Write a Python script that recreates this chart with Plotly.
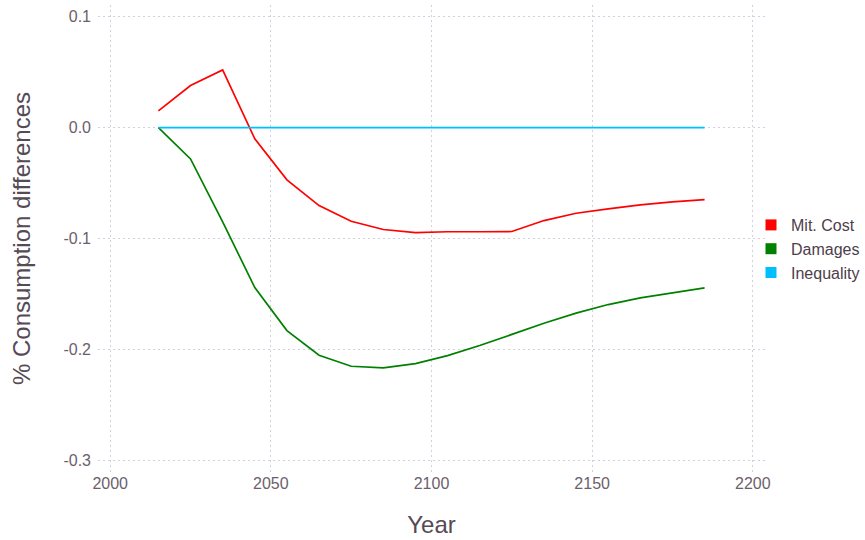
import plotly.graph_objects as go

years = [2015, 2025, 2035, 2045, 2055, 2065, 2075, 2085, 2095, 2105,
         2115, 2125, 2135, 2145, 2155, 2165, 2175, 2185]
mit_cost = [0.0151, 0.0379, 0.0520, -0.0102, -0.0472, -0.0704, -0.0845, -0.0920, -0.0948,
            -0.0940, -0.0940, -0.0938, -0.0839, -0.0773, -0.0734, -0.0698, -0.0670, -0.0650]
damages = [0.0, -0.0283, -0.0850, -0.1444, -0.1832, -0.2054, -0.2154, -0.2169, -0.2130,
           -0.2058, -0.1967, -0.1865, -0.1766, -0.1675, -0.1597, -0.1537, -0.1489, -0.1447]
inequality = [0.0] * len(years)

series_names = ["Mit. Cost", "Damages", "Inequality"]
series_colors = ["#FF0000", "#008000", "#00BFFF"]
series_values = [mit_cost, damages, inequality]

x_ticks = [2000, 2050, 2100, 2150, 2200]
y_ticks = [0.1, 0.0, -0.1, -0.2, -0.3]
y_tick_labels = ["0.1", "0.0", "-0.1", "-0.2", "-0.3"]

FONT = "Liberation Sans, Helvetica, Arial, sans-serif"

fig = go.Figure()
for name, color, vals in zip(series_names, series_colors, series_values):
    fig.add_trace(go.Scatter(x=years, y=vals, mode="lines", name=name,
                             line=dict(color=color, width=1.7), showlegend=False))
for name, color in zip(series_names, series_colors):
    fig.add_trace(go.Scatter(x=[None], y=[None], mode="markers", name=name,
                             marker=dict(symbol="square", size=11, color=color),
                             showlegend=True))

grid = dict(showgrid=True, gridcolor="#D0D0E0", gridwidth=1, griddash="2px,3px",
            zeroline=False, showline=False, ticks="")

fig.update_layout(
    width=865, height=540,
    margin=dict(l=98, r=100, t=5, b=68, autoexpand=False),
    paper_bgcolor="white", plot_bgcolor="white",
    font=dict(family=FONT, color="#6c606b", size=16),
    xaxis=dict(range=[1996.2, 2203.8], tickvals=x_ticks,
               title=dict(text="Year", font=dict(size=24, color="#564a55"), standoff=25),
               tickfont=dict(size=16, color="#6c606b"), **grid),
    yaxis=dict(range=[-0.3108, 0.1106], tickvals=y_ticks, ticktext=y_tick_labels,
               ticklabelstandoff=6,
               title=dict(text="% Consumption differences", font=dict(size=24, color="#564a55"), standoff=26),
               tickfont=dict(size=16, color="#6c606b"), **grid),
    legend=dict(x=0.979, xanchor="left", y=0.4775, yanchor="middle",
                font=dict(size=16, color="#4c404b"), itemwidth=30,
                bgcolor="rgba(0,0,0,0)", tracegroupgap=0),
)

fig.write_html("out.html")
